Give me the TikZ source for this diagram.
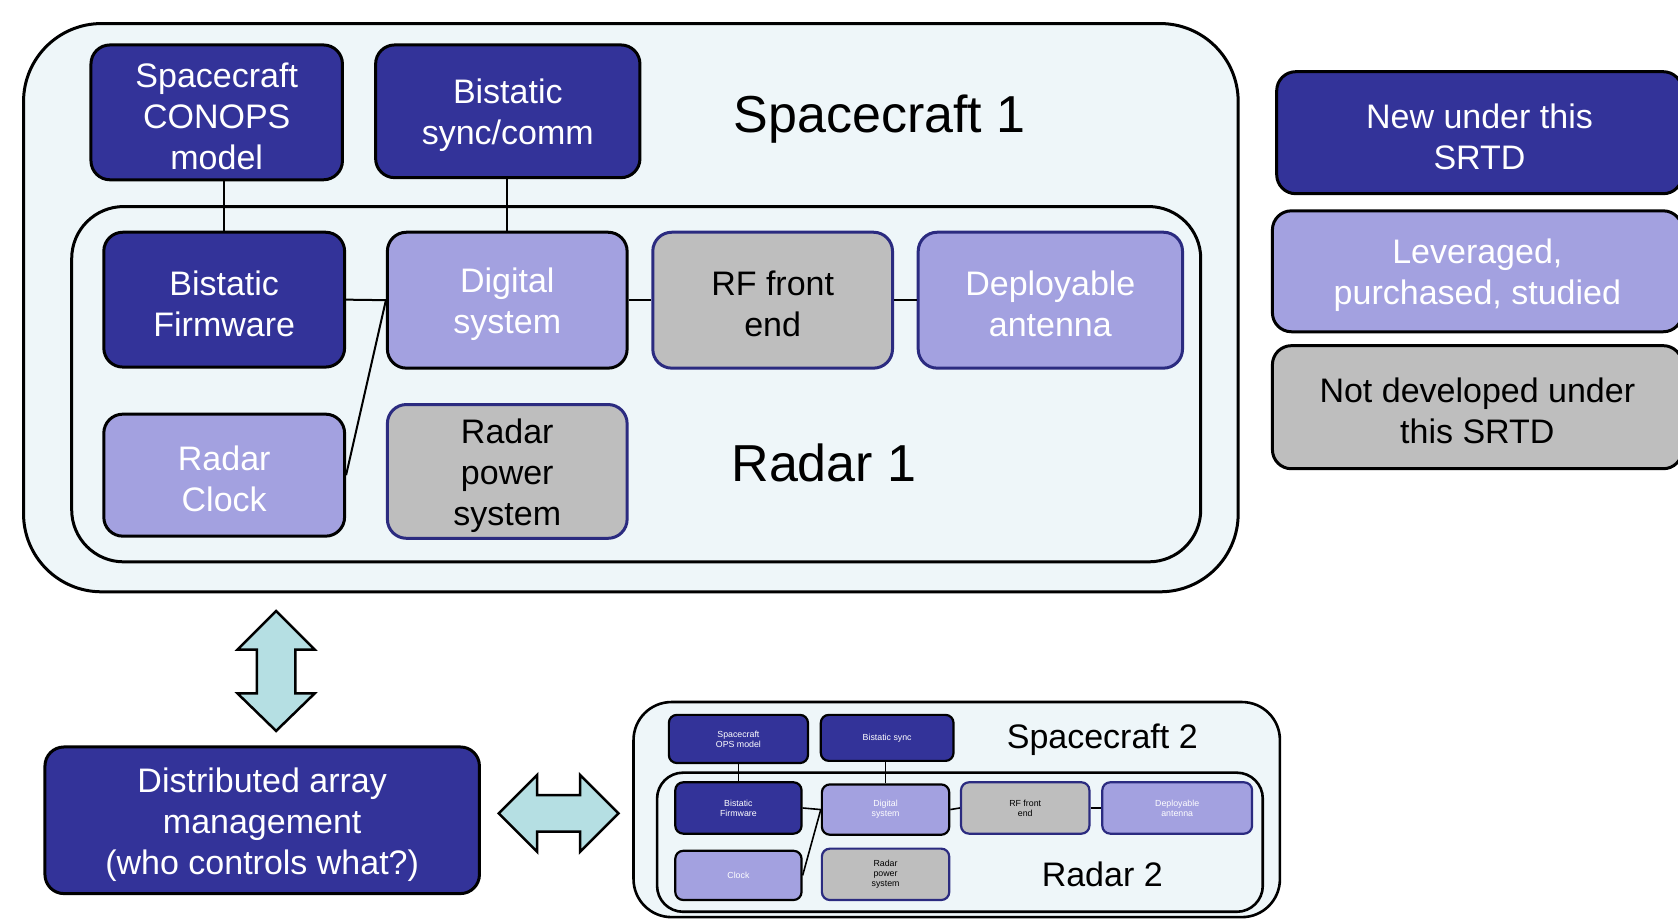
\documentclass[tikz,border=0pt]{standalone}
\usepackage{fontspec}
\setmainfont{Liberation Sans}
\definecolor{navy}{HTML}{333399}
\definecolor{lav}{HTML}{A3A1E0}
\definecolor{grayf}{HTML}{BEBEBE}
\definecolor{bnavy}{HTML}{2B2B80}
\definecolor{bgc}{HTML}{EEF6F9}
\definecolor{arrowc}{HTML}{B5DFE3}
\tikzset{
  base/.style={rounded corners=19pt, line width=3pt, inner sep=0pt, align=center, font=\fontsize{34}{41}\selectfont},
  dk/.style={base, fill=navy, draw=black, text=white},
  lt/.style={base, fill=lav, draw=black, text=white},
  ltn/.style={base, fill=lav, draw=bnavy, text=white},
  gy/.style={base, fill=grayf, draw=bnavy, text=black},
  gyk/.style={base, fill=grayf, draw=black, text=black},
  sm/.style={rounded corners=8pt, line width=2.2pt, font=\fontsize{8.8}{10}\selectfont},
  plain/.style={draw=none, fill=none, minimum width=0pt, minimum height=0pt},
  container/.style={draw=black, fill=bgc, line width=3pt},
  title/.style={font=\fontsize{52}{60}\selectfont, text=black},
  stitle/.style={font=\fontsize{34}{40}\selectfont, text=black},
  conn/.style={draw=black, line width=2pt},
  sconn/.style={draw=black, line width=1.6pt},
  bigarrow/.style={draw=black, fill=arrowc, line width=2.5pt, line join=miter}
}
% box macro: style, name, x1, y1, x2, y2, text  (text lowered slightly)
\newcommand\mybx[7]{%
  \node[#1, minimum width={(#5-#3)*1.0702pt}, minimum height={(#6-#4)*1.0702pt}] (#2) at ({(#3+#5)/2},{(#4+#6)/2}) {};
  \node[#1, plain] (#2-t) at ([yshift=-4pt]#2.center) {#7};}
% small box macro
\newcommand\mysbx[7]{%
  \node[#1, minimum width={(#5-#3)*1.0702pt}, minimum height={(#6-#4)*1.0702pt}] (#2) at ({(#3+#5)/2},{(#4+#6)/2}) {#7};}
\begin{document}
\begin{tikzpicture}[x=1.0702pt, y=-1.0702pt]
\clip (0,0) rectangle (1568,858);
\fill[white] (0,0) rectangle (1568,858);

% Spacecraft 1 containers
\draw[container, rounded corners=78pt] (22,22) rectangle (1157,553);
\draw[container, rounded corners=52pt] (67,193) rectangle (1122,525);

\mybx{dk}{conops}{85}{42}{320}{168}{Spacecraft\\CONOPS\\model}
\mybx{dk}{sync}{351}{42}{598}{166}{Bistatic\\sync/comm}
\node[title] (sc1) at (822,111) {Spacecraft 1};

\mybx{dk}{firm}{97}{217}{322}{343}{Bistatic\\Firmware}
\mybx{lt}{dig}{362}{217}{586}{344}{Digital\\system}
\mybx{gy}{rf}{610}{217}{834}{344}{RF front\\end}
\mybx{ltn}{ant}{858}{217}{1105}{344}{Deployable\\antenna}
\mybx{lt}{clock}{97}{387}{322}{501}{Radar\\Clock}
\mybx{gy}{pow}{362}{378}{586}{503}{Radar\\power\\system}
\node[title] (r1) at (770,433) {Radar 1};

\draw[conn] (firm.north) -- (firm.north |- conops.south);
\draw[conn] (dig.north) -- (dig.north |- sync.south);
\draw[conn] (firm.east) -- (dig.west);
\draw[conn] (dig.east) -- (rf.west);
\draw[conn] (rf.east) -- (ant.west);
\draw[conn] (clock.east) -- (dig.west);

% Legend
\mybx{dk}{leg1}{1193}{67}{1572}{181}{New under this\\SRTD}
\mybx{lt}{leg2}{1189}{197}{1572}{310}{Leveraged,\\purchased, studied}
\mybx{gyk}{leg3}{1189}{323}{1572}{438}{Not developed under\\this SRTD}

% Vertical double arrow
\draw[bigarrow] (258,571) -- (294,607) -- (276,607) -- (276,648) -- (294,648) -- (258,683)
  -- (222,648) -- (240,648) -- (240,607) -- (222,607) -- cycle;

% Distributed array management
\mybx{dk}{dam}{42}{698}{448}{835}{Distributed array\\management\\(who controls what?)}

% Horizontal double arrow
\draw[bigarrow] (466,760) -- (502,724) -- (502,743) -- (542,743) -- (542,724) -- (578,760)
  -- (542,796) -- (542,777) -- (502,777) -- (502,796) -- cycle;

% Spacecraft 2 panel
\draw[container, rounded corners=38pt, line width=2.6pt] (592,656) rectangle (1196,857);
\draw[container, rounded corners=26pt, line width=2.6pt] (614,722) rectangle (1180,852);

\mysbx{dk,sm}{sops}{625}{668}{755}{713}{Spacecraft\\OPS model}
\mysbx{dk,sm}{ssync}{767}{668}{891}{711}{Bistatic sync}
\node[stitle] (sc2) at (1030,691) {Spacecraft 2};

\mysbx{dk,sm}{sfirm}{631}{731}{749}{779}{Bistatic\\Firmware}
\mysbx{lt,sm}{sdig}{768}{733}{887}{780}{Digital\\system}
\mysbx{gy,sm}{srf}{898}{731}{1018}{779}{RF front\\end}
\mysbx{ltn,sm}{sant}{1030}{731}{1170}{779}{Deployable\\antenna}
\mysbx{lt,sm}{sclock}{631}{795}{749}{841}{Clock}
\mysbx{gy,sm}{spow}{768}{793}{887}{841}{Radar\\power\\system}
\node[stitle] (r2) at (1030,817) {Radar 2};

\draw[sconn] (sfirm.north) -- (sfirm.north |- sops.south);
\draw[sconn] (sdig.north) -- (sdig.north |- ssync.south);
\draw[sconn] (sfirm.east) -- (sdig.west);
\draw[sconn] (sdig.east) -- (srf.west);
\draw[sconn] (srf.east) -- (sant.west);
\draw[sconn] (sclock.east) -- (sdig.west);
\end{tikzpicture}
\end{document}
